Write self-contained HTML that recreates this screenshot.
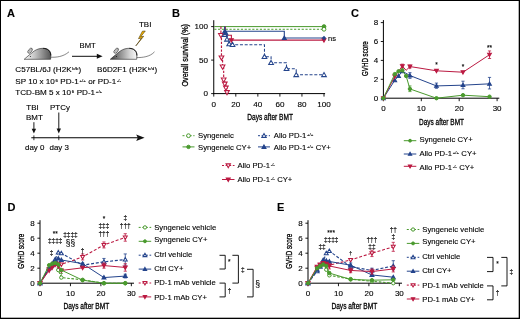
<!DOCTYPE html><html><head><meta charset="utf-8"><style>html,body{margin:0;padding:0;background:#fff;}svg{display:block;will-change:transform;}text{font-family:"Liberation Sans", sans-serif;stroke:#000;stroke-width:0.12px;}</style></head><body>
<svg width="520" height="319" viewBox="0 0 520 319">
<defs><linearGradient id="mg" x1="0" y1="0" x2="1" y2="0"><stop offset="0" stop-color="#fbfbfb"/><stop offset="0.4" stop-color="#c4c4c4"/><stop offset="0.8" stop-color="#7a7a7a"/><stop offset="1" stop-color="#555"/></linearGradient><linearGradient id="mg2" x1="0" y1="0" x2="1" y2="0"><stop offset="0" stop-color="#3a3a3a"/><stop offset="0.35" stop-color="#8a8a8a"/><stop offset="0.75" stop-color="#d8d8d8"/><stop offset="1" stop-color="#f8f8f8"/></linearGradient></defs>
<rect x="0" y="0" width="520" height="319" fill="#fff"/>
<text x="7" y="16.8" font-size="11" text-anchor="start" font-weight="bold" fill="#000" >A</text>
<text x="172" y="16.5" font-size="11" text-anchor="start" font-weight="bold" fill="#000" >B</text>
<text x="351" y="16.5" font-size="11" text-anchor="start" font-weight="bold" fill="#000" >C</text>
<text x="7.5" y="210.5" font-size="11" text-anchor="start" font-weight="bold" fill="#000" >D</text>
<text x="277" y="210.5" font-size="11" text-anchor="start" font-weight="bold" fill="#000" >E</text>
<path d="M24.2,59.3 C27.2,57 30.7,53.3 34.2,51 C37.2,49 40.2,48.3 43.2,48.3 C47.7,48.3 50.8,51 50.8,55 L50.599999999999994,59.3 Z" fill="url(#mg)" stroke="#222" stroke-width="0.6" stroke-linejoin="round"/>
<path d="M43.2,48.4 C47.7,48.4 50.7,51 50.8,55.5" fill="none" stroke="#111" stroke-width="0.9"/>
<ellipse cx="30.1" cy="50.7" rx="1.6" ry="3.0" transform="rotate(40 30.1 50.7)" fill="#f2f2f2" stroke="#222" stroke-width="0.6"/>
<ellipse cx="30.299999999999997" cy="50.5" rx="0.6" ry="1.9" transform="rotate(40 30.299999999999997 50.5)" fill="none" stroke="#555" stroke-width="0.4"/>
<circle cx="30.4" cy="56.6" r="0.5" fill="#111"/>
<path d="M110.3,59.3 C113.3,57 116.8,53.3 120.3,51 C123.3,49 126.3,48.3 129.3,48.3 C133.8,48.3 136.9,51 136.9,55 L136.7,59.3 Z" fill="url(#mg2)" stroke="#222" stroke-width="0.6" stroke-linejoin="round"/>
<path d="M129.3,48.4 C133.8,48.4 136.8,51 136.9,55.5" fill="none" stroke="#111" stroke-width="0.9"/>
<ellipse cx="116.2" cy="50.7" rx="1.6" ry="3.0" transform="rotate(40 116.2 50.7)" fill="#f2f2f2" stroke="#222" stroke-width="0.6"/>
<ellipse cx="116.39999999999999" cy="50.5" rx="0.6" ry="1.9" transform="rotate(40 116.39999999999999 50.5)" fill="none" stroke="#555" stroke-width="0.4"/>
<circle cx="116.5" cy="56.6" r="0.5" fill="#111"/>
<path d="M50.8,57.2 C56,57.4 63,57 69,51.8" fill="none" stroke="#222" stroke-width="0.55"/>
<path d="M136.8,57.6 C142,57.6 150,57 154.5,51.8" fill="none" stroke="#222" stroke-width="0.55"/>
<text x="79.5" y="47.5" font-size="7.7" text-anchor="start" font-weight="normal" fill="#000" >BMT</text>
<line x1="72" y1="56.3" x2="99" y2="56.3" stroke="#000" stroke-width="0.95"/>
<polygon points="102.6,56.3 96.8,53.8 96.8,58.8" fill="#111"/>
<text x="139" y="26.6" font-size="7.95" text-anchor="start" font-weight="normal" fill="#000" >TBI</text>
<path d="M145.3,31 L142.4,31.2 L138.5,38.7 L141.5,38.1 L135.8,45.9 L143.7,36.3 L140.7,36.8 Z" fill="#f5b400" stroke="#3a2a00" stroke-width="0.55" stroke-linejoin="round"/>
<text x="15.3" y="72.2" font-size="8.1" fill="#000">C57BL/6J (H2K<tspan font-size="4.4" dy="-2.0" dx="0.7">b/b</tspan><tspan dy="2.0" dx="0.2">)</tspan></text>
<text x="97" y="72.3" font-size="8.1" fill="#000">B6D2F1 (H2K<tspan font-size="4.4" dy="-2.0" dx="0.7">b/d</tspan><tspan dy="2.0" dx="0.2">)</tspan></text>
<text x="15.3" y="84.2" font-size="8.1" fill="#000">SP 10 x 10<tspan font-size="4.4" dy="-2.0" dx="0.7">6</tspan><tspan dy="2.0" dx="0.2"> PD-1</tspan><tspan font-size="4.4" dy="-2.0" dx="0.7">+/+</tspan><tspan dy="2.0" dx="0.2"> or PD-1</tspan><tspan font-size="4.4" dy="-2.0" dx="0.7">-/-</tspan></text>
<text x="15.3" y="95.2" font-size="8.1" fill="#000">TCD-BM 5 x 10<tspan font-size="4.4" dy="-2.0" dx="0.7">6</tspan><tspan dy="2.0" dx="0.2"> PD-1</tspan><tspan font-size="4.4" dy="-2.0" dx="0.7">+/+</tspan></text>
<text x="26.3" y="110" font-size="7.95" text-anchor="start" font-weight="normal" fill="#000" >TBI</text>
<text x="26" y="119.5" font-size="7.95" text-anchor="start" font-weight="normal" fill="#000" >BMT</text>
<text x="50" y="110" font-size="7.95" text-anchor="start" font-weight="normal" fill="#000" >PTCy</text>
<line x1="33.9" y1="122.2" x2="33.9" y2="131" stroke="#000" stroke-width="0.9"/>
<polygon points="33.9,133.6 31.7,128.8 36.1,128.8" fill="#111"/>
<line x1="58.8" y1="112.5" x2="58.8" y2="131" stroke="#000" stroke-width="0.9"/>
<polygon points="58.8,133.4 56.6,128.6 61,128.6" fill="#111"/>
<line x1="31.3" y1="137.8" x2="139" y2="137.8" stroke="#000" stroke-width="1.1"/>
<polygon points="144.6,137.8 136.2,134.6 137.8,137.8 136.2,141.1" fill="#111"/>
<line x1="33.9" y1="135.4" x2="33.9" y2="140.2" stroke="#000" stroke-width="0.8"/>
<line x1="58.8" y1="135.4" x2="58.8" y2="140.2" stroke="#000" stroke-width="0.8"/>
<text x="25" y="150" font-size="7.95" text-anchor="start" font-weight="normal" fill="#000" >day 0</text>
<text x="49.5" y="150" font-size="7.95" text-anchor="start" font-weight="normal" fill="#000" >day 3</text>
<line x1="213.75" y1="20.2" x2="213.75" y2="94.1" stroke="#000" stroke-width="1"/>
<line x1="213.25" y1="93.6" x2="325.1025" y2="93.6" stroke="#000" stroke-width="1"/>
<line x1="211.15" y1="93.6" x2="213.75" y2="93.6" stroke="#000" stroke-width="0.9"/>
<text x="207.95" y="96.39999999999999" font-size="8.1" text-anchor="end" font-weight="normal" fill="#000" >0</text>
<line x1="211.15" y1="60.099999999999994" x2="213.75" y2="60.099999999999994" stroke="#000" stroke-width="0.9"/>
<text x="207.95" y="62.89999999999999" font-size="8.1" text-anchor="end" font-weight="normal" fill="#000" >50</text>
<line x1="211.15" y1="26.599999999999994" x2="213.75" y2="26.599999999999994" stroke="#000" stroke-width="0.9"/>
<text x="207.95" y="29.399999999999995" font-size="8.1" text-anchor="end" font-weight="normal" fill="#000" >100</text>
<line x1="213.75" y1="93.6" x2="213.75" y2="96.6" stroke="#000" stroke-width="0.9"/>
<text x="213.75" y="106.5" font-size="8.1" text-anchor="middle" font-weight="normal" fill="#000" >0</text>
<line x1="235.8" y1="93.6" x2="235.8" y2="96.6" stroke="#000" stroke-width="0.9"/>
<text x="235.8" y="106.5" font-size="8.1" text-anchor="middle" font-weight="normal" fill="#000" >20</text>
<line x1="257.85" y1="93.6" x2="257.85" y2="96.6" stroke="#000" stroke-width="0.9"/>
<text x="257.85" y="106.5" font-size="8.1" text-anchor="middle" font-weight="normal" fill="#000" >40</text>
<line x1="279.9" y1="93.6" x2="279.9" y2="96.6" stroke="#000" stroke-width="0.9"/>
<text x="279.9" y="106.5" font-size="8.1" text-anchor="middle" font-weight="normal" fill="#000" >60</text>
<line x1="301.95" y1="93.6" x2="301.95" y2="96.6" stroke="#000" stroke-width="0.9"/>
<text x="301.95" y="106.5" font-size="8.1" text-anchor="middle" font-weight="normal" fill="#000" >80</text>
<line x1="324.0" y1="93.6" x2="324.0" y2="96.6" stroke="#000" stroke-width="0.9"/>
<text x="324.0" y="106.5" font-size="8.1" text-anchor="middle" font-weight="normal" fill="#000" >100</text>
<text x="247.3" y="119.6" font-size="9" text-anchor="start" textLength="45.6" lengthAdjust="spacingAndGlyphs" fill="#000" style="stroke-width:0.3px">Days after BMT</text>
<text x="188.5" y="86.6" font-size="8.8" text-anchor="start" textLength="62.6" lengthAdjust="spacingAndGlyphs" fill="#000" style="stroke-width:0.3px" transform="rotate(-90 188.5 86.6)">Overall survival (%)</text>
<line x1="214.25" y1="26.599999999999994" x2="324.0" y2="26.599999999999994" stroke="#4a9a2e" stroke-width="1"/>
<line x1="214.25" y1="29.279999999999987" x2="324.0" y2="29.279999999999987" stroke="#4a9a2e" stroke-width="1" stroke-dasharray="2.2,1.6"/>
<circle cx="324.00" cy="26.60" r="1.90" fill="#4a9a2e" stroke="#4a9a2e" stroke-width="1.0"/>
<circle cx="324.00" cy="29.28" r="1.90" fill="white" stroke="#4a9a2e" stroke-width="1.0"/>
<polyline points="224.78,26.60 224.78,31.29 284.31,31.29 284.31,37.99 324.00,37.99" fill="none" stroke="#24448c" stroke-width="1.1" stroke-linejoin="miter"/>
<polyline points="225.33,26.60 225.33,35.31 231.39,35.31 231.39,40.13 324.00,40.13" fill="none" stroke="#bb1a42" stroke-width="1.1" stroke-linejoin="miter"/>
<polyline points="224.78,26.60 224.78,34.64 226.98,34.64 226.98,39.33 229.19,39.33 229.19,44.02 232.49,44.02 232.49,44.69 264.47,44.69 264.47,56.75 271.08,56.75 271.08,62.78 286.51,62.78 286.51,68.81 296.22,68.81 296.22,74.84 324.00,74.84" fill="none" stroke="#24448c" stroke-width="1.05" stroke-dasharray="3,1.75" stroke-linejoin="miter"/>
<polyline points="220.92,26.60 220.92,35.31 221.47,35.31 221.47,57.75 222.57,57.75 222.57,66.80 223.67,66.80 223.67,79.86 224.78,79.86 224.78,83.88 225.88,83.88 225.88,87.91 226.98,87.91 226.98,92.39" fill="none" stroke="#bb1a42" stroke-width="1.15" stroke-dasharray="2.4,1.5" stroke-linejoin="miter"/>
<polygon points="220.92,37.67 223.28,33.54 218.55,33.54" fill="white" stroke="#bb1a42" stroke-width="1.05" stroke-linejoin="miter"/>
<polygon points="221.47,60.12 223.83,55.98 219.10,55.98" fill="white" stroke="#bb1a42" stroke-width="1.05" stroke-linejoin="miter"/>
<polygon points="222.57,69.16 224.94,65.03 220.20,65.03" fill="white" stroke="#bb1a42" stroke-width="1.05" stroke-linejoin="miter"/>
<polygon points="223.67,82.23 226.04,78.09 221.31,78.09" fill="white" stroke="#bb1a42" stroke-width="1.05" stroke-linejoin="miter"/>
<polygon points="224.78,86.25 227.14,82.11 222.41,82.11" fill="white" stroke="#bb1a42" stroke-width="1.05" stroke-linejoin="miter"/>
<polygon points="225.88,90.27 228.24,86.13 223.51,86.13" fill="white" stroke="#bb1a42" stroke-width="1.05" stroke-linejoin="miter"/>
<polygon points="226.98,94.76 229.34,90.62 224.61,90.62" fill="white" stroke="#bb1a42" stroke-width="1.05" stroke-linejoin="miter"/>
<polygon points="224.78,32.27 227.14,36.41 222.41,36.41" fill="white" stroke="#24448c" stroke-width="1.05" stroke-linejoin="miter"/>
<polygon points="226.98,36.96 229.34,41.10 224.61,41.10" fill="white" stroke="#24448c" stroke-width="1.05" stroke-linejoin="miter"/>
<polygon points="229.19,41.65 231.55,45.79 226.82,45.79" fill="white" stroke="#24448c" stroke-width="1.05" stroke-linejoin="miter"/>
<polygon points="232.49,42.32 234.86,46.46 230.13,46.46" fill="white" stroke="#24448c" stroke-width="1.05" stroke-linejoin="miter"/>
<polygon points="264.47,54.38 266.83,58.52 262.10,58.52" fill="white" stroke="#24448c" stroke-width="1.05" stroke-linejoin="miter"/>
<polygon points="271.08,60.41 273.44,64.55 268.71,64.55" fill="white" stroke="#24448c" stroke-width="1.05" stroke-linejoin="miter"/>
<polygon points="286.51,66.44 288.88,70.58 284.15,70.58" fill="white" stroke="#24448c" stroke-width="1.05" stroke-linejoin="miter"/>
<polygon points="296.22,72.47 298.58,76.61 293.85,76.61" fill="white" stroke="#24448c" stroke-width="1.05" stroke-linejoin="miter"/>
<polygon points="324.00,72.47 326.37,76.61 321.63,76.61" fill="white" stroke="#24448c" stroke-width="1.05" stroke-linejoin="miter"/>
<polygon points="224.78,29.31 226.75,32.77 222.80,32.77" fill="#24448c" stroke="#24448c" stroke-width="1.05" stroke-linejoin="miter"/>
<polygon points="225.88,31.32 227.86,34.78 223.90,34.78" fill="#24448c" stroke="#24448c" stroke-width="1.05" stroke-linejoin="miter"/>
<polygon points="284.31,36.01 286.29,39.47 282.33,39.47" fill="#24448c" stroke="#24448c" stroke-width="1.05" stroke-linejoin="miter"/>
<polygon points="231.39,42.11 233.37,38.65 229.41,38.65" fill="#bb1a42" stroke="#bb1a42" stroke-width="1.05" stroke-linejoin="miter"/>
<polygon points="324.00,42.11 325.98,38.65 322.02,38.65" fill="#bb1a42" stroke="#bb1a42" stroke-width="1.05" stroke-linejoin="miter"/>
<path d="M324.0,35.789999999999985 l2.2,2.2 l-2.2,2.2 l-2.2,-2.2 z" fill="#24448c"/>
<text x="328" y="41" font-size="7.5" text-anchor="start" font-weight="normal" fill="#000" >ns</text>
<line x1="182.5" y1="135.7" x2="194.5" y2="135.7" stroke="#4a9a2e" stroke-width="1" stroke-dasharray="2,1.6"/>
<circle cx="188.50" cy="135.70" r="1.90" fill="white" stroke="#4a9a2e" stroke-width="1.0"/>
<text x="198" y="138.39999999999998" font-size="7.7" text-anchor="start" font-weight="normal" fill="#000" >Syngeneic</text>
<line x1="182.5" y1="146.9" x2="194.5" y2="146.9" stroke="#4a9a2e" stroke-width="1"/>
<circle cx="188.50" cy="146.90" r="1.71" fill="#4a9a2e" stroke="#4a9a2e" stroke-width="1.0"/>
<text x="198" y="149.6" font-size="7.7" text-anchor="start" font-weight="normal" fill="#000" >Syngeneic CY+</text>
<line x1="258" y1="135.7" x2="270" y2="135.7" stroke="#24448c" stroke-width="1" stroke-dasharray="2,1.6"/>
<polygon points="264.00,133.50 266.20,137.35 261.80,137.35" fill="white" stroke="#24448c" stroke-width="1.05" stroke-linejoin="miter"/>
<text x="273.8" y="138.39999999999998" font-size="7.7" fill="#000">Allo PD-1<tspan font-size="4.4" dy="-2.0" dx="0.7">+/+</tspan></text>
<line x1="258" y1="146.9" x2="270" y2="146.9" stroke="#24448c" stroke-width="1"/>
<polygon points="264.00,144.92 265.98,148.39 262.02,148.39" fill="#24448c" stroke="#24448c" stroke-width="1.05" stroke-linejoin="miter"/>
<text x="273.8" y="149.6" font-size="7.7" fill="#000">Allo PD-1<tspan font-size="4.4" dy="-2.0" dx="0.7">+/+</tspan><tspan dy="2.0" dx="0.2"> CY+</tspan></text>
<line x1="222" y1="165.5" x2="234.5" y2="165.5" stroke="#bb1a42" stroke-width="1" stroke-dasharray="2,1.6"/>
<polygon points="228.25,167.70 230.45,163.85 226.05,163.85" fill="white" stroke="#bb1a42" stroke-width="1.05" stroke-linejoin="miter"/>
<text x="237.5" y="168.2" font-size="7.7" fill="#000">Allo PD-1<tspan font-size="4.4" dy="-2.0" dx="0.7">-/-</tspan></text>
<line x1="222" y1="179.5" x2="234.5" y2="179.5" stroke="#bb1a42" stroke-width="1"/>
<polygon points="228.25,181.48 230.23,178.01 226.27,178.01" fill="#bb1a42" stroke="#bb1a42" stroke-width="1.05" stroke-linejoin="miter"/>
<text x="237.5" y="182.2" font-size="7.7" fill="#000">Allo PD-1<tspan font-size="4.4" dy="-2.0" dx="0.7">-/-</tspan><tspan dy="2.0" dx="0.2"> CY+</tspan></text>
<line x1="383.4" y1="20.1" x2="383.4" y2="98.7" stroke="#000" stroke-width="1"/>
<line x1="382.9" y1="98.2" x2="499.3" y2="98.2" stroke="#000" stroke-width="1"/>
<line x1="380.79999999999995" y1="98.2" x2="383.4" y2="98.2" stroke="#000" stroke-width="0.9"/>
<text x="378.09999999999997" y="101.0" font-size="8" text-anchor="end" font-weight="normal" fill="#000" >0</text>
<line x1="380.79999999999995" y1="79.30000000000001" x2="383.4" y2="79.30000000000001" stroke="#000" stroke-width="0.9"/>
<text x="378.09999999999997" y="82.10000000000001" font-size="8" text-anchor="end" font-weight="normal" fill="#000" >2</text>
<line x1="380.79999999999995" y1="60.400000000000006" x2="383.4" y2="60.400000000000006" stroke="#000" stroke-width="0.9"/>
<text x="378.09999999999997" y="63.2" font-size="8" text-anchor="end" font-weight="normal" fill="#000" >4</text>
<line x1="380.79999999999995" y1="41.50000000000001" x2="383.4" y2="41.50000000000001" stroke="#000" stroke-width="0.9"/>
<text x="378.09999999999997" y="44.300000000000004" font-size="8" text-anchor="end" font-weight="normal" fill="#000" >6</text>
<line x1="380.79999999999995" y1="22.60000000000001" x2="383.4" y2="22.60000000000001" stroke="#000" stroke-width="0.9"/>
<text x="378.09999999999997" y="25.40000000000001" font-size="8" text-anchor="end" font-weight="normal" fill="#000" >8</text>
<line x1="383.4" y1="98.2" x2="383.4" y2="101.2" stroke="#000" stroke-width="0.9"/>
<text x="383.4" y="111" font-size="8" text-anchor="middle" font-weight="normal" fill="#000" >0</text>
<line x1="421.29999999999995" y1="98.2" x2="421.29999999999995" y2="101.2" stroke="#000" stroke-width="0.9"/>
<text x="421.29999999999995" y="111" font-size="8" text-anchor="middle" font-weight="normal" fill="#000" >10</text>
<line x1="459.2" y1="98.2" x2="459.2" y2="101.2" stroke="#000" stroke-width="0.9"/>
<text x="459.2" y="111" font-size="8" text-anchor="middle" font-weight="normal" fill="#000" >20</text>
<line x1="497.09999999999997" y1="98.2" x2="497.09999999999997" y2="101.2" stroke="#000" stroke-width="0.9"/>
<text x="497.09999999999997" y="111" font-size="8" text-anchor="middle" font-weight="normal" fill="#000" >30</text>
<text x="419" y="124.7" font-size="9" text-anchor="start" textLength="45" lengthAdjust="spacingAndGlyphs" fill="#000" style="stroke-width:0.3px">Days after BMT</text>
<text x="368.1" y="76" font-size="9" text-anchor="start" textLength="34.7" lengthAdjust="spacingAndGlyphs" fill="#000" style="stroke-width:0.3px" transform="rotate(-90 368.1 76)">GVHD score</text>
<polyline points="383.40,98.20 394.77,80.25 398.56,75.99 402.35,71.27 409.93,75.52 436.46,85.92 462.99,85.16 489.52,83.84" fill="none" stroke="#24448c" stroke-width="1" stroke-linejoin="miter"/>
<polygon points="383.40,96.33 385.27,99.60 381.53,99.60" fill="#24448c" stroke="#24448c" stroke-width="1.05" stroke-linejoin="miter"/>
<polygon points="394.77,78.38 396.64,81.65 392.90,81.65" fill="#24448c" stroke="#24448c" stroke-width="1.05" stroke-linejoin="miter"/>
<polygon points="398.56,74.12 400.43,77.40 396.69,77.40" fill="#24448c" stroke="#24448c" stroke-width="1.05" stroke-linejoin="miter"/>
<polygon points="402.35,69.40 404.22,72.67 400.48,72.67" fill="#24448c" stroke="#24448c" stroke-width="1.05" stroke-linejoin="miter"/>
<polygon points="409.93,73.65 411.80,76.92 408.06,76.92" fill="#24448c" stroke="#24448c" stroke-width="1.05" stroke-linejoin="miter"/>
<polygon points="436.46,84.05 438.33,87.32 434.59,87.32" fill="#24448c" stroke="#24448c" stroke-width="1.05" stroke-linejoin="miter"/>
<polygon points="462.99,83.29 464.86,86.56 461.12,86.56" fill="#24448c" stroke="#24448c" stroke-width="1.05" stroke-linejoin="miter"/>
<polygon points="489.52,81.97 491.39,85.24 487.65,85.24" fill="#24448c" stroke="#24448c" stroke-width="1.05" stroke-linejoin="miter"/>
<line x1="409.92999999999995" y1="78.355" x2="409.92999999999995" y2="72.685" stroke="#24448c" stroke-width="0.8"/>
<line x1="408.3299999999999" y1="78.355" x2="411.53" y2="78.355" stroke="#24448c" stroke-width="0.8"/>
<line x1="408.3299999999999" y1="72.685" x2="411.53" y2="72.685" stroke="#24448c" stroke-width="0.8"/>
<line x1="436.46" y1="88.2775" x2="436.46" y2="83.08" stroke="#24448c" stroke-width="0.8"/>
<line x1="434.85999999999996" y1="88.2775" x2="438.06" y2="88.2775" stroke="#24448c" stroke-width="0.8"/>
<line x1="434.85999999999996" y1="83.08" x2="438.06" y2="83.08" stroke="#24448c" stroke-width="0.8"/>
<line x1="462.99" y1="88.75" x2="462.99" y2="81.19" stroke="#24448c" stroke-width="0.8"/>
<line x1="461.39" y1="88.75" x2="464.59000000000003" y2="88.75" stroke="#24448c" stroke-width="0.8"/>
<line x1="461.39" y1="81.19" x2="464.59000000000003" y2="81.19" stroke="#24448c" stroke-width="0.8"/>
<line x1="489.52" y1="88.93900000000001" x2="489.52" y2="77.41" stroke="#24448c" stroke-width="0.8"/>
<line x1="487.91999999999996" y1="88.93900000000001" x2="491.12" y2="88.93900000000001" stroke="#24448c" stroke-width="0.8"/>
<line x1="487.91999999999996" y1="77.41" x2="491.12" y2="77.41" stroke="#24448c" stroke-width="0.8"/>
<polyline points="383.40,98.20 394.77,76.47 402.35,66.07 406.14,70.32 409.93,66.54 436.46,70.80 462.99,72.21 489.52,54.73" fill="none" stroke="#bb1a42" stroke-width="1" stroke-linejoin="miter"/>
<polygon points="383.40,100.07 385.27,96.80 381.53,96.80" fill="#bb1a42" stroke="#bb1a42" stroke-width="1.05" stroke-linejoin="miter"/>
<polygon points="394.77,78.34 396.64,75.06 392.90,75.06" fill="#bb1a42" stroke="#bb1a42" stroke-width="1.05" stroke-linejoin="miter"/>
<polygon points="402.35,67.94 404.22,64.67 400.48,64.67" fill="#bb1a42" stroke="#bb1a42" stroke-width="1.05" stroke-linejoin="miter"/>
<polygon points="409.93,68.41 411.80,65.14 408.06,65.14" fill="#bb1a42" stroke="#bb1a42" stroke-width="1.05" stroke-linejoin="miter"/>
<polygon points="436.46,72.67 438.33,69.39 434.59,69.39" fill="#bb1a42" stroke="#bb1a42" stroke-width="1.05" stroke-linejoin="miter"/>
<polygon points="462.99,74.08 464.86,70.81 461.12,70.81" fill="#bb1a42" stroke="#bb1a42" stroke-width="1.05" stroke-linejoin="miter"/>
<polygon points="489.52,56.60 491.39,53.33 487.65,53.33" fill="#bb1a42" stroke="#bb1a42" stroke-width="1.05" stroke-linejoin="miter"/>
<line x1="402.34999999999997" y1="67.96000000000001" x2="402.34999999999997" y2="64.18" stroke="#bb1a42" stroke-width="0.8"/>
<line x1="400.74999999999994" y1="67.96000000000001" x2="403.95" y2="67.96000000000001" stroke="#bb1a42" stroke-width="0.8"/>
<line x1="400.74999999999994" y1="64.18" x2="403.95" y2="64.18" stroke="#bb1a42" stroke-width="0.8"/>
<line x1="409.92999999999995" y1="67.96000000000001" x2="409.92999999999995" y2="65.125" stroke="#bb1a42" stroke-width="0.8"/>
<line x1="408.3299999999999" y1="67.96000000000001" x2="411.53" y2="67.96000000000001" stroke="#bb1a42" stroke-width="0.8"/>
<line x1="408.3299999999999" y1="65.125" x2="411.53" y2="65.125" stroke="#bb1a42" stroke-width="0.8"/>
<line x1="489.52" y1="58.510000000000005" x2="489.52" y2="50.95" stroke="#bb1a42" stroke-width="0.8"/>
<line x1="487.91999999999996" y1="58.510000000000005" x2="491.12" y2="58.510000000000005" stroke="#bb1a42" stroke-width="0.8"/>
<line x1="487.91999999999996" y1="50.95" x2="491.12" y2="50.95" stroke="#bb1a42" stroke-width="0.8"/>
<polyline points="383.40,98.20 394.77,74.10 398.56,71.27 402.35,70.32 406.14,75.99 409.93,88.94 436.46,98.20 462.99,95.18 489.52,96.69" fill="none" stroke="#4a9a2e" stroke-width="1" stroke-linejoin="miter"/>
<circle cx="383.40" cy="98.20" r="1.71" fill="#4a9a2e" stroke="#4a9a2e" stroke-width="1.0"/>
<circle cx="394.77" cy="74.10" r="1.71" fill="#4a9a2e" stroke="#4a9a2e" stroke-width="1.0"/>
<circle cx="398.56" cy="71.27" r="1.71" fill="#4a9a2e" stroke="#4a9a2e" stroke-width="1.0"/>
<circle cx="402.35" cy="70.32" r="1.71" fill="#4a9a2e" stroke="#4a9a2e" stroke-width="1.0"/>
<circle cx="406.14" cy="75.99" r="1.71" fill="#4a9a2e" stroke="#4a9a2e" stroke-width="1.0"/>
<circle cx="409.93" cy="88.94" r="1.71" fill="#4a9a2e" stroke="#4a9a2e" stroke-width="1.0"/>
<circle cx="436.46" cy="98.20" r="1.71" fill="#4a9a2e" stroke="#4a9a2e" stroke-width="1.0"/>
<circle cx="462.99" cy="95.18" r="1.71" fill="#4a9a2e" stroke="#4a9a2e" stroke-width="1.0"/>
<circle cx="489.52" cy="96.69" r="1.71" fill="#4a9a2e" stroke="#4a9a2e" stroke-width="1.0"/>
<line x1="409.92999999999995" y1="91.58500000000001" x2="409.92999999999995" y2="85.915" stroke="#4a9a2e" stroke-width="0.8"/>
<line x1="408.3299999999999" y1="91.58500000000001" x2="411.53" y2="91.58500000000001" stroke="#4a9a2e" stroke-width="0.8"/>
<line x1="408.3299999999999" y1="85.915" x2="411.53" y2="85.915" stroke="#4a9a2e" stroke-width="0.8"/>
<text x="436.46" y="67.3" font-size="6.5" text-anchor="middle" font-weight="normal" fill="#000" >*</text>
<text x="462.99" y="68.6" font-size="6.5" text-anchor="middle" font-weight="normal" fill="#000" >*</text>
<text x="489.52" y="50.3" font-size="6.5" text-anchor="middle" font-weight="normal" fill="#000" >**</text>
<line x1="403.8" y1="140.7" x2="416.3" y2="140.7" stroke="#4a9a2e" stroke-width="1"/>
<circle cx="410.05" cy="140.70" r="1.42" fill="#4a9a2e" stroke="#4a9a2e" stroke-width="1.0"/>
<text x="419.5" y="141.8" font-size="7.7" text-anchor="start" font-weight="normal" fill="#000" >Syngeneic CY+</text>
<line x1="403.8" y1="154.0" x2="416.3" y2="154.0" stroke="#24448c" stroke-width="1"/>
<polygon points="410.05,152.35 411.70,155.24 408.40,155.24" fill="#24448c" stroke="#24448c" stroke-width="1.05" stroke-linejoin="miter"/>
<text x="419.5" y="155.8" font-size="7.7" fill="#000">Allo PD-1<tspan font-size="4.4" dy="-2.0" dx="0.7">+/+</tspan><tspan dy="2.0" dx="0.2"> CY+</tspan></text>
<line x1="403.8" y1="166.3" x2="416.3" y2="166.3" stroke="#bb1a42" stroke-width="1"/>
<polygon points="410.05,167.95 411.70,165.06 408.40,165.06" fill="#bb1a42" stroke="#bb1a42" stroke-width="1.05" stroke-linejoin="miter"/>
<text x="419.5" y="169.8" font-size="7.7" fill="#000">Allo PD-1<tspan font-size="4.4" dy="-2.0" dx="0.7">-/-</tspan><tspan dy="2.0" dx="0.2"> CY+</tspan></text>
<line x1="40" y1="220.2" x2="40" y2="283.7" stroke="#000" stroke-width="1"/>
<line x1="39.5" y1="283.2" x2="134" y2="283.2" stroke="#000" stroke-width="1"/>
<line x1="37.4" y1="283.2" x2="40" y2="283.2" stroke="#000" stroke-width="0.9"/>
<text x="34.7" y="286.0" font-size="8" text-anchor="end" font-weight="normal" fill="#000" >0</text>
<line x1="37.4" y1="268.2" x2="40" y2="268.2" stroke="#000" stroke-width="0.9"/>
<text x="34.7" y="271.0" font-size="8" text-anchor="end" font-weight="normal" fill="#000" >2</text>
<line x1="37.4" y1="253.2" x2="40" y2="253.2" stroke="#000" stroke-width="0.9"/>
<text x="34.7" y="256.0" font-size="8" text-anchor="end" font-weight="normal" fill="#000" >4</text>
<line x1="37.4" y1="238.2" x2="40" y2="238.2" stroke="#000" stroke-width="0.9"/>
<text x="34.7" y="241.0" font-size="8" text-anchor="end" font-weight="normal" fill="#000" >6</text>
<line x1="37.4" y1="223.2" x2="40" y2="223.2" stroke="#000" stroke-width="0.9"/>
<text x="34.7" y="226.0" font-size="8" text-anchor="end" font-weight="normal" fill="#000" >8</text>
<line x1="40.0" y1="283.2" x2="40.0" y2="286.2" stroke="#000" stroke-width="0.9"/>
<text x="40.0" y="296.2" font-size="8" text-anchor="middle" font-weight="normal" fill="#000" >0</text>
<line x1="70.45" y1="283.2" x2="70.45" y2="286.2" stroke="#000" stroke-width="0.9"/>
<text x="70.45" y="296.2" font-size="8" text-anchor="middle" font-weight="normal" fill="#000" >10</text>
<line x1="100.9" y1="283.2" x2="100.9" y2="286.2" stroke="#000" stroke-width="0.9"/>
<text x="100.9" y="296.2" font-size="8" text-anchor="middle" font-weight="normal" fill="#000" >20</text>
<line x1="131.35" y1="283.2" x2="131.35" y2="286.2" stroke="#000" stroke-width="0.9"/>
<text x="131.35" y="296.2" font-size="8" text-anchor="middle" font-weight="normal" fill="#000" >30</text>
<text x="63.4" y="309.3" font-size="9" text-anchor="start" textLength="45.9" lengthAdjust="spacingAndGlyphs" fill="#000" style="stroke-width:0.3px">Days after BMT</text>
<text x="23.8" y="268.8" font-size="9" text-anchor="start" textLength="35" lengthAdjust="spacingAndGlyphs" fill="#000" style="stroke-width:0.3px" transform="rotate(-90 23.8 268.8)">GVHD score</text>
<polyline points="40.00,283.20 49.13,268.20 52.18,265.95 55.23,263.70 58.27,270.07 61.31,277.57 82.63,279.82 103.94,283.20 125.26,283.20" fill="none" stroke="#4a9a2e" stroke-width="1.1" stroke-dasharray="2.6,1.6" stroke-linejoin="miter"/>
<line x1="61.315" y1="277.575" x2="61.315" y2="273.45" stroke="#4a9a2e" stroke-width="0.8"/>
<line x1="59.714999999999996" y1="277.575" x2="62.915" y2="277.575" stroke="#4a9a2e" stroke-width="0.8"/>
<line x1="59.714999999999996" y1="273.45" x2="62.915" y2="273.45" stroke="#4a9a2e" stroke-width="0.8"/>
<circle cx="40.00" cy="283.20" r="1.71" fill="white" stroke="#4a9a2e" stroke-width="1.0"/>
<circle cx="49.13" cy="268.20" r="1.71" fill="white" stroke="#4a9a2e" stroke-width="1.0"/>
<circle cx="52.18" cy="265.95" r="1.71" fill="white" stroke="#4a9a2e" stroke-width="1.0"/>
<circle cx="55.23" cy="263.70" r="1.71" fill="white" stroke="#4a9a2e" stroke-width="1.0"/>
<circle cx="58.27" cy="270.07" r="1.71" fill="white" stroke="#4a9a2e" stroke-width="1.0"/>
<circle cx="61.31" cy="277.57" r="1.71" fill="white" stroke="#4a9a2e" stroke-width="1.0"/>
<circle cx="82.63" cy="279.82" r="1.71" fill="white" stroke="#4a9a2e" stroke-width="1.0"/>
<circle cx="103.94" cy="283.20" r="1.71" fill="white" stroke="#4a9a2e" stroke-width="1.0"/>
<circle cx="125.26" cy="283.20" r="1.71" fill="white" stroke="#4a9a2e" stroke-width="1.0"/>
<polyline points="40.00,283.20 49.13,267.45 52.18,263.70 55.23,259.20 58.27,252.45 61.31,253.20 82.63,265.20 103.94,261.82 125.26,259.57" fill="none" stroke="#24448c" stroke-width="1.1" stroke-dasharray="3,1.8" stroke-linejoin="miter"/>
<line x1="82.63" y1="267.45" x2="82.63" y2="262.95" stroke="#24448c" stroke-width="0.8"/>
<line x1="81.03" y1="267.45" x2="84.22999999999999" y2="267.45" stroke="#24448c" stroke-width="0.8"/>
<line x1="81.03" y1="262.95" x2="84.22999999999999" y2="262.95" stroke="#24448c" stroke-width="0.8"/>
<line x1="103.945" y1="265.2" x2="103.945" y2="258.45" stroke="#24448c" stroke-width="0.8"/>
<line x1="102.345" y1="265.2" x2="105.54499999999999" y2="265.2" stroke="#24448c" stroke-width="0.8"/>
<line x1="102.345" y1="258.45" x2="105.54499999999999" y2="258.45" stroke="#24448c" stroke-width="0.8"/>
<line x1="125.25999999999999" y1="265.2" x2="125.25999999999999" y2="253.95" stroke="#24448c" stroke-width="0.8"/>
<line x1="123.66" y1="265.2" x2="126.85999999999999" y2="265.2" stroke="#24448c" stroke-width="0.8"/>
<line x1="123.66" y1="253.95" x2="126.85999999999999" y2="253.95" stroke="#24448c" stroke-width="0.8"/>
<polygon points="40.00,281.22 41.98,284.69 38.02,284.69" fill="white" stroke="#24448c" stroke-width="1.05" stroke-linejoin="miter"/>
<polygon points="49.13,265.47 51.11,268.94 47.16,268.94" fill="white" stroke="#24448c" stroke-width="1.05" stroke-linejoin="miter"/>
<polygon points="52.18,261.72 54.16,265.19 50.20,265.19" fill="white" stroke="#24448c" stroke-width="1.05" stroke-linejoin="miter"/>
<polygon points="55.23,257.22 57.20,260.69 53.25,260.69" fill="white" stroke="#24448c" stroke-width="1.05" stroke-linejoin="miter"/>
<polygon points="58.27,250.47 60.25,253.94 56.29,253.94" fill="white" stroke="#24448c" stroke-width="1.05" stroke-linejoin="miter"/>
<polygon points="61.31,251.22 63.29,254.69 59.34,254.69" fill="white" stroke="#24448c" stroke-width="1.05" stroke-linejoin="miter"/>
<polygon points="82.63,263.22 84.61,266.69 80.65,266.69" fill="white" stroke="#24448c" stroke-width="1.05" stroke-linejoin="miter"/>
<polygon points="103.94,259.84 105.92,263.31 101.96,263.31" fill="white" stroke="#24448c" stroke-width="1.05" stroke-linejoin="miter"/>
<polygon points="125.26,257.59 127.24,261.06 123.28,261.06" fill="white" stroke="#24448c" stroke-width="1.05" stroke-linejoin="miter"/>
<polyline points="40.00,283.20 49.13,268.95 52.18,265.95 55.23,262.95 58.27,263.70 61.31,264.45 82.63,256.95 103.94,244.95 125.26,237.45" fill="none" stroke="#bb1a42" stroke-width="1.1" stroke-dasharray="3,1.8" stroke-linejoin="miter"/>
<line x1="82.63" y1="259.95" x2="82.63" y2="253.95" stroke="#bb1a42" stroke-width="0.8"/>
<line x1="81.03" y1="259.95" x2="84.22999999999999" y2="259.95" stroke="#bb1a42" stroke-width="0.8"/>
<line x1="81.03" y1="253.95" x2="84.22999999999999" y2="253.95" stroke="#bb1a42" stroke-width="0.8"/>
<line x1="103.945" y1="247.95" x2="103.945" y2="241.95" stroke="#bb1a42" stroke-width="0.8"/>
<line x1="102.345" y1="247.95" x2="105.54499999999999" y2="247.95" stroke="#bb1a42" stroke-width="0.8"/>
<line x1="102.345" y1="241.95" x2="105.54499999999999" y2="241.95" stroke="#bb1a42" stroke-width="0.8"/>
<line x1="125.25999999999999" y1="241.2" x2="125.25999999999999" y2="233.7" stroke="#bb1a42" stroke-width="0.8"/>
<line x1="123.66" y1="241.2" x2="126.85999999999999" y2="241.2" stroke="#bb1a42" stroke-width="0.8"/>
<line x1="123.66" y1="233.7" x2="126.85999999999999" y2="233.7" stroke="#bb1a42" stroke-width="0.8"/>
<polygon points="40.00,285.18 41.98,281.71 38.02,281.71" fill="white" stroke="#bb1a42" stroke-width="1.05" stroke-linejoin="miter"/>
<polygon points="49.13,270.93 51.11,267.46 47.16,267.46" fill="white" stroke="#bb1a42" stroke-width="1.05" stroke-linejoin="miter"/>
<polygon points="52.18,267.93 54.16,264.46 50.20,264.46" fill="white" stroke="#bb1a42" stroke-width="1.05" stroke-linejoin="miter"/>
<polygon points="55.23,264.93 57.20,261.46 53.25,261.46" fill="white" stroke="#bb1a42" stroke-width="1.05" stroke-linejoin="miter"/>
<polygon points="58.27,265.68 60.25,262.21 56.29,262.21" fill="white" stroke="#bb1a42" stroke-width="1.05" stroke-linejoin="miter"/>
<polygon points="61.31,266.43 63.29,262.96 59.34,262.96" fill="white" stroke="#bb1a42" stroke-width="1.05" stroke-linejoin="miter"/>
<polygon points="82.63,258.93 84.61,255.46 80.65,255.46" fill="white" stroke="#bb1a42" stroke-width="1.05" stroke-linejoin="miter"/>
<polygon points="103.94,246.93 105.92,243.46 101.96,243.46" fill="white" stroke="#bb1a42" stroke-width="1.05" stroke-linejoin="miter"/>
<polygon points="125.26,239.43 127.24,235.96 123.28,235.96" fill="white" stroke="#bb1a42" stroke-width="1.05" stroke-linejoin="miter"/>
<polyline points="40.00,283.20 49.13,268.20 52.18,265.20 55.23,260.70 58.27,258.45 61.31,259.95 82.63,263.70 103.94,277.57 125.26,276.07" fill="none" stroke="#24448c" stroke-width="1" stroke-linejoin="miter"/>
<line x1="125.25999999999999" y1="277.95" x2="125.25999999999999" y2="274.2" stroke="#24448c" stroke-width="0.8"/>
<line x1="123.66" y1="277.95" x2="126.85999999999999" y2="277.95" stroke="#24448c" stroke-width="0.8"/>
<line x1="123.66" y1="274.2" x2="126.85999999999999" y2="274.2" stroke="#24448c" stroke-width="0.8"/>
<polygon points="40.00,281.22 41.98,284.69 38.02,284.69" fill="#24448c" stroke="#24448c" stroke-width="1.05" stroke-linejoin="miter"/>
<polygon points="49.13,266.22 51.11,269.69 47.16,269.69" fill="#24448c" stroke="#24448c" stroke-width="1.05" stroke-linejoin="miter"/>
<polygon points="52.18,263.22 54.16,266.69 50.20,266.69" fill="#24448c" stroke="#24448c" stroke-width="1.05" stroke-linejoin="miter"/>
<polygon points="55.23,258.72 57.20,262.19 53.25,262.19" fill="#24448c" stroke="#24448c" stroke-width="1.05" stroke-linejoin="miter"/>
<polygon points="58.27,256.47 60.25,259.94 56.29,259.94" fill="#24448c" stroke="#24448c" stroke-width="1.05" stroke-linejoin="miter"/>
<polygon points="61.31,257.97 63.29,261.44 59.34,261.44" fill="#24448c" stroke="#24448c" stroke-width="1.05" stroke-linejoin="miter"/>
<polygon points="82.63,261.72 84.61,265.19 80.65,265.19" fill="#24448c" stroke="#24448c" stroke-width="1.05" stroke-linejoin="miter"/>
<polygon points="103.94,275.59 105.92,279.06 101.96,279.06" fill="#24448c" stroke="#24448c" stroke-width="1.05" stroke-linejoin="miter"/>
<polygon points="125.26,274.09 127.24,277.56 123.28,277.56" fill="#24448c" stroke="#24448c" stroke-width="1.05" stroke-linejoin="miter"/>
<polyline points="40.00,283.20 49.13,270.45 52.18,267.45 55.23,264.45 58.27,265.95 61.31,270.45 82.63,267.82 103.94,265.57 125.26,267.45" fill="none" stroke="#bb1a42" stroke-width="1" stroke-linejoin="miter"/>
<line x1="103.945" y1="268.2" x2="103.945" y2="262.95" stroke="#bb1a42" stroke-width="0.8"/>
<line x1="102.345" y1="268.2" x2="105.54499999999999" y2="268.2" stroke="#bb1a42" stroke-width="0.8"/>
<line x1="102.345" y1="262.95" x2="105.54499999999999" y2="262.95" stroke="#bb1a42" stroke-width="0.8"/>
<line x1="125.25999999999999" y1="271.2" x2="125.25999999999999" y2="263.7" stroke="#bb1a42" stroke-width="0.8"/>
<line x1="123.66" y1="271.2" x2="126.85999999999999" y2="271.2" stroke="#bb1a42" stroke-width="0.8"/>
<line x1="123.66" y1="263.7" x2="126.85999999999999" y2="263.7" stroke="#bb1a42" stroke-width="0.8"/>
<polygon points="40.00,285.18 41.98,281.71 38.02,281.71" fill="#bb1a42" stroke="#bb1a42" stroke-width="1.05" stroke-linejoin="miter"/>
<polygon points="49.13,272.43 51.11,268.96 47.16,268.96" fill="#bb1a42" stroke="#bb1a42" stroke-width="1.05" stroke-linejoin="miter"/>
<polygon points="52.18,269.43 54.16,265.96 50.20,265.96" fill="#bb1a42" stroke="#bb1a42" stroke-width="1.05" stroke-linejoin="miter"/>
<polygon points="55.23,266.43 57.20,262.96 53.25,262.96" fill="#bb1a42" stroke="#bb1a42" stroke-width="1.05" stroke-linejoin="miter"/>
<polygon points="58.27,267.93 60.25,264.46 56.29,264.46" fill="#bb1a42" stroke="#bb1a42" stroke-width="1.05" stroke-linejoin="miter"/>
<polygon points="61.31,272.43 63.29,268.96 59.34,268.96" fill="#bb1a42" stroke="#bb1a42" stroke-width="1.05" stroke-linejoin="miter"/>
<polygon points="82.63,269.81 84.61,266.34 80.65,266.34" fill="#bb1a42" stroke="#bb1a42" stroke-width="1.05" stroke-linejoin="miter"/>
<polygon points="103.94,267.56 105.92,264.09 101.96,264.09" fill="#bb1a42" stroke="#bb1a42" stroke-width="1.05" stroke-linejoin="miter"/>
<polygon points="125.26,269.43 127.24,265.96 123.28,265.96" fill="#bb1a42" stroke="#bb1a42" stroke-width="1.05" stroke-linejoin="miter"/>
<polyline points="40.00,283.20 49.13,265.20 52.18,263.70 55.23,262.95 58.27,264.45 61.31,270.07 82.63,280.20 103.94,283.20 125.26,283.20" fill="none" stroke="#4a9a2e" stroke-width="1" stroke-linejoin="miter"/>
<circle cx="40.00" cy="283.20" r="1.71" fill="#4a9a2e" stroke="#4a9a2e" stroke-width="1.0"/>
<circle cx="49.13" cy="265.20" r="1.71" fill="#4a9a2e" stroke="#4a9a2e" stroke-width="1.0"/>
<circle cx="52.18" cy="263.70" r="1.71" fill="#4a9a2e" stroke="#4a9a2e" stroke-width="1.0"/>
<circle cx="55.23" cy="262.95" r="1.71" fill="#4a9a2e" stroke="#4a9a2e" stroke-width="1.0"/>
<circle cx="58.27" cy="264.45" r="1.71" fill="#4a9a2e" stroke="#4a9a2e" stroke-width="1.0"/>
<circle cx="61.31" cy="270.07" r="1.71" fill="#4a9a2e" stroke="#4a9a2e" stroke-width="1.0"/>
<circle cx="82.63" cy="280.20" r="1.71" fill="#4a9a2e" stroke="#4a9a2e" stroke-width="1.0"/>
<circle cx="103.94" cy="283.20" r="1.71" fill="#4a9a2e" stroke="#4a9a2e" stroke-width="1.0"/>
<circle cx="125.26" cy="283.20" r="1.71" fill="#4a9a2e" stroke="#4a9a2e" stroke-width="1.0"/>
<text x="55.225" y="236" font-size="6.5" text-anchor="middle" font-weight="normal" fill="#000" >**</text>
<text x="55.225" y="242.6" font-size="6.5" text-anchor="middle" font-weight="normal" fill="#000" >‡‡‡‡</text>
<text x="51.571" y="255" font-size="6.5" text-anchor="middle" font-weight="normal" fill="#000" >‡</text>
<text x="70.45" y="237.2" font-size="6.5" text-anchor="middle" font-weight="normal" fill="#000" >‡‡‡‡</text>
<text x="70.45" y="246" font-size="8.3" text-anchor="middle" font-weight="normal" fill="#000" >§§</text>
<text x="82.63" y="252.8" font-size="6.5" text-anchor="middle" font-weight="normal" fill="#000" >†</text>
<text x="103.945" y="221" font-size="6.5" text-anchor="middle" font-weight="normal" fill="#000" >*</text>
<text x="103.945" y="228" font-size="6.5" text-anchor="middle" font-weight="normal" fill="#000" >‡‡‡</text>
<text x="103.945" y="235.5" font-size="6.5" text-anchor="middle" font-weight="normal" fill="#000" >†††</text>
<text x="125.25999999999999" y="220" font-size="6.5" text-anchor="middle" font-weight="normal" fill="#000" >‡</text>
<text x="125.25999999999999" y="228" font-size="6.5" text-anchor="middle" font-weight="normal" fill="#000" >†††</text>
<line x1="138.7" y1="227.4" x2="151.2" y2="227.4" stroke="#4a9a2e" stroke-width="1" stroke-dasharray="2,1.6"/>
<circle cx="144.95" cy="227.40" r="1.66" fill="white" stroke="#4a9a2e" stroke-width="1.0"/>
<text x="154.2" y="229.9" font-size="7.7" text-anchor="start" font-weight="normal" fill="#000" >Syngeneic vehicle</text>
<line x1="138.7" y1="241.3" x2="151.2" y2="241.3" stroke="#4a9a2e" stroke-width="1"/>
<circle cx="144.95" cy="241.30" r="1.47" fill="#4a9a2e" stroke="#4a9a2e" stroke-width="1.0"/>
<text x="154.2" y="241.9" font-size="7.7" text-anchor="start" font-weight="normal" fill="#000" >Syngeneic CY+</text>
<line x1="138.7" y1="255.20000000000002" x2="151.2" y2="255.20000000000002" stroke="#24448c" stroke-width="1" stroke-dasharray="2,1.6"/>
<polygon points="144.95,253.28 146.88,256.64 143.02,256.64" fill="white" stroke="#24448c" stroke-width="1.05" stroke-linejoin="miter"/>
<text x="154.2" y="256.6" font-size="7.7" text-anchor="start" font-weight="normal" fill="#000" >Ctrl vehicle</text>
<line x1="138.7" y1="269.1" x2="151.2" y2="269.1" stroke="#24448c" stroke-width="1"/>
<polygon points="144.95,267.40 146.66,270.38 143.24,270.38" fill="#24448c" stroke="#24448c" stroke-width="1.05" stroke-linejoin="miter"/>
<text x="154.2" y="271.0" font-size="7.7" text-anchor="start" font-weight="normal" fill="#000" >Ctrl CY+</text>
<line x1="138.7" y1="283.0" x2="151.2" y2="283.0" stroke="#bb1a42" stroke-width="1" stroke-dasharray="2,1.6"/>
<polygon points="144.95,284.93 146.88,281.56 143.02,281.56" fill="white" stroke="#bb1a42" stroke-width="1.05" stroke-linejoin="miter"/>
<text x="154.2" y="285.4" font-size="7.7" text-anchor="start" font-weight="normal" fill="#000" >PD-1 mAb vehicle</text>
<line x1="138.7" y1="296.9" x2="151.2" y2="296.9" stroke="#bb1a42" stroke-width="1"/>
<polygon points="144.95,298.60 146.66,295.62 143.24,295.62" fill="#bb1a42" stroke="#bb1a42" stroke-width="1.05" stroke-linejoin="miter"/>
<text x="154.2" y="299.79999999999995" font-size="7.7" text-anchor="start" font-weight="normal" fill="#000" >PD-1 mAb CY+</text>
<line x1="308" y1="220.2" x2="308" y2="283.7" stroke="#000" stroke-width="1"/>
<line x1="307.5" y1="283.2" x2="402" y2="283.2" stroke="#000" stroke-width="1"/>
<line x1="305.4" y1="283.2" x2="308" y2="283.2" stroke="#000" stroke-width="0.9"/>
<text x="302.7" y="286.0" font-size="8" text-anchor="end" font-weight="normal" fill="#000" >0</text>
<line x1="305.4" y1="268.2" x2="308" y2="268.2" stroke="#000" stroke-width="0.9"/>
<text x="302.7" y="271.0" font-size="8" text-anchor="end" font-weight="normal" fill="#000" >2</text>
<line x1="305.4" y1="253.2" x2="308" y2="253.2" stroke="#000" stroke-width="0.9"/>
<text x="302.7" y="256.0" font-size="8" text-anchor="end" font-weight="normal" fill="#000" >4</text>
<line x1="305.4" y1="238.2" x2="308" y2="238.2" stroke="#000" stroke-width="0.9"/>
<text x="302.7" y="241.0" font-size="8" text-anchor="end" font-weight="normal" fill="#000" >6</text>
<line x1="305.4" y1="223.2" x2="308" y2="223.2" stroke="#000" stroke-width="0.9"/>
<text x="302.7" y="226.0" font-size="8" text-anchor="end" font-weight="normal" fill="#000" >8</text>
<line x1="308.0" y1="283.2" x2="308.0" y2="286.2" stroke="#000" stroke-width="0.9"/>
<text x="308.0" y="296.2" font-size="8" text-anchor="middle" font-weight="normal" fill="#000" >0</text>
<line x1="338.45" y1="283.2" x2="338.45" y2="286.2" stroke="#000" stroke-width="0.9"/>
<text x="338.45" y="296.2" font-size="8" text-anchor="middle" font-weight="normal" fill="#000" >10</text>
<line x1="368.9" y1="283.2" x2="368.9" y2="286.2" stroke="#000" stroke-width="0.9"/>
<text x="368.9" y="296.2" font-size="8" text-anchor="middle" font-weight="normal" fill="#000" >20</text>
<line x1="399.35" y1="283.2" x2="399.35" y2="286.2" stroke="#000" stroke-width="0.9"/>
<text x="399.35" y="296.2" font-size="8" text-anchor="middle" font-weight="normal" fill="#000" >30</text>
<text x="331.4" y="309.3" font-size="9" text-anchor="start" textLength="45.9" lengthAdjust="spacingAndGlyphs" fill="#000" style="stroke-width:0.3px">Days after BMT</text>
<text x="291.8" y="268.8" font-size="9" text-anchor="start" textLength="35" lengthAdjust="spacingAndGlyphs" fill="#000" style="stroke-width:0.3px" transform="rotate(-90 291.8 268.8)">GVHD score</text>
<polyline points="308.00,283.20 317.13,268.95 320.18,265.20 323.23,263.70 326.27,269.70 329.31,275.32 350.63,279.07 371.94,281.32 393.26,283.20" fill="none" stroke="#4a9a2e" stroke-width="1.1" stroke-dasharray="2.6,1.6" stroke-linejoin="miter"/>
<line x1="329.315" y1="275.325" x2="329.315" y2="271.95" stroke="#4a9a2e" stroke-width="0.8"/>
<line x1="327.715" y1="275.325" x2="330.915" y2="275.325" stroke="#4a9a2e" stroke-width="0.8"/>
<line x1="327.715" y1="271.95" x2="330.915" y2="271.95" stroke="#4a9a2e" stroke-width="0.8"/>
<circle cx="308.00" cy="283.20" r="1.71" fill="white" stroke="#4a9a2e" stroke-width="1.0"/>
<circle cx="317.13" cy="268.95" r="1.71" fill="white" stroke="#4a9a2e" stroke-width="1.0"/>
<circle cx="320.18" cy="265.20" r="1.71" fill="white" stroke="#4a9a2e" stroke-width="1.0"/>
<circle cx="323.23" cy="263.70" r="1.71" fill="white" stroke="#4a9a2e" stroke-width="1.0"/>
<circle cx="326.27" cy="269.70" r="1.71" fill="white" stroke="#4a9a2e" stroke-width="1.0"/>
<circle cx="329.31" cy="275.32" r="1.71" fill="white" stroke="#4a9a2e" stroke-width="1.0"/>
<circle cx="350.63" cy="279.07" r="1.71" fill="white" stroke="#4a9a2e" stroke-width="1.0"/>
<circle cx="371.94" cy="281.32" r="1.71" fill="white" stroke="#4a9a2e" stroke-width="1.0"/>
<circle cx="393.26" cy="283.20" r="1.71" fill="white" stroke="#4a9a2e" stroke-width="1.0"/>
<polyline points="308.00,283.20 317.13,271.20 320.18,266.70 323.23,261.45 326.27,253.20 329.31,250.95 350.63,266.70 371.94,270.45 393.26,265.95" fill="none" stroke="#24448c" stroke-width="1.1" stroke-dasharray="3,1.8" stroke-linejoin="miter"/>
<line x1="371.945" y1="272.7" x2="371.945" y2="268.2" stroke="#24448c" stroke-width="0.8"/>
<line x1="370.34499999999997" y1="272.7" x2="373.545" y2="272.7" stroke="#24448c" stroke-width="0.8"/>
<line x1="370.34499999999997" y1="268.2" x2="373.545" y2="268.2" stroke="#24448c" stroke-width="0.8"/>
<line x1="393.26" y1="269.7" x2="393.26" y2="260.7" stroke="#24448c" stroke-width="0.8"/>
<line x1="391.65999999999997" y1="269.7" x2="394.86" y2="269.7" stroke="#24448c" stroke-width="0.8"/>
<line x1="391.65999999999997" y1="260.7" x2="394.86" y2="260.7" stroke="#24448c" stroke-width="0.8"/>
<polygon points="308.00,281.22 309.98,284.69 306.02,284.69" fill="white" stroke="#24448c" stroke-width="1.05" stroke-linejoin="miter"/>
<polygon points="317.13,269.22 319.12,272.69 315.15,272.69" fill="white" stroke="#24448c" stroke-width="1.05" stroke-linejoin="miter"/>
<polygon points="320.18,264.72 322.16,268.19 318.20,268.19" fill="white" stroke="#24448c" stroke-width="1.05" stroke-linejoin="miter"/>
<polygon points="323.23,259.47 325.21,262.94 321.25,262.94" fill="white" stroke="#24448c" stroke-width="1.05" stroke-linejoin="miter"/>
<polygon points="326.27,251.22 328.25,254.69 324.29,254.69" fill="white" stroke="#24448c" stroke-width="1.05" stroke-linejoin="miter"/>
<polygon points="329.31,248.97 331.30,252.44 327.33,252.44" fill="white" stroke="#24448c" stroke-width="1.05" stroke-linejoin="miter"/>
<polygon points="350.63,264.72 352.61,268.19 348.65,268.19" fill="white" stroke="#24448c" stroke-width="1.05" stroke-linejoin="miter"/>
<polygon points="371.94,268.47 373.93,271.94 369.96,271.94" fill="white" stroke="#24448c" stroke-width="1.05" stroke-linejoin="miter"/>
<polygon points="393.26,263.97 395.24,267.44 391.28,267.44" fill="white" stroke="#24448c" stroke-width="1.05" stroke-linejoin="miter"/>
<polyline points="308.00,283.20 317.13,268.20 320.18,265.20 323.23,263.70 326.27,264.45 329.31,265.20 350.63,259.95 371.94,253.20 393.26,246.82" fill="none" stroke="#bb1a42" stroke-width="1.1" stroke-dasharray="3,1.8" stroke-linejoin="miter"/>
<line x1="371.945" y1="256.575" x2="371.945" y2="250.2" stroke="#bb1a42" stroke-width="0.8"/>
<line x1="370.34499999999997" y1="256.575" x2="373.545" y2="256.575" stroke="#bb1a42" stroke-width="0.8"/>
<line x1="370.34499999999997" y1="250.2" x2="373.545" y2="250.2" stroke="#bb1a42" stroke-width="0.8"/>
<line x1="393.26" y1="251.325" x2="393.26" y2="242.325" stroke="#bb1a42" stroke-width="0.8"/>
<line x1="391.65999999999997" y1="251.325" x2="394.86" y2="251.325" stroke="#bb1a42" stroke-width="0.8"/>
<line x1="391.65999999999997" y1="242.325" x2="394.86" y2="242.325" stroke="#bb1a42" stroke-width="0.8"/>
<polygon points="308.00,285.18 309.98,281.71 306.02,281.71" fill="white" stroke="#bb1a42" stroke-width="1.05" stroke-linejoin="miter"/>
<polygon points="317.13,270.18 319.12,266.71 315.15,266.71" fill="white" stroke="#bb1a42" stroke-width="1.05" stroke-linejoin="miter"/>
<polygon points="320.18,267.18 322.16,263.71 318.20,263.71" fill="white" stroke="#bb1a42" stroke-width="1.05" stroke-linejoin="miter"/>
<polygon points="323.23,265.68 325.21,262.21 321.25,262.21" fill="white" stroke="#bb1a42" stroke-width="1.05" stroke-linejoin="miter"/>
<polygon points="326.27,266.43 328.25,262.96 324.29,262.96" fill="white" stroke="#bb1a42" stroke-width="1.05" stroke-linejoin="miter"/>
<polygon points="329.31,267.18 331.30,263.71 327.33,263.71" fill="white" stroke="#bb1a42" stroke-width="1.05" stroke-linejoin="miter"/>
<polygon points="350.63,261.93 352.61,258.46 348.65,258.46" fill="white" stroke="#bb1a42" stroke-width="1.05" stroke-linejoin="miter"/>
<polygon points="371.94,255.18 373.93,251.71 369.96,251.71" fill="white" stroke="#bb1a42" stroke-width="1.05" stroke-linejoin="miter"/>
<polygon points="393.26,248.80 395.24,245.34 391.28,245.34" fill="white" stroke="#bb1a42" stroke-width="1.05" stroke-linejoin="miter"/>
<polyline points="308.00,283.20 317.13,269.70 320.18,265.20 323.23,259.95 326.27,260.70 329.31,261.45 350.63,265.20 371.94,274.95 393.26,277.20" fill="none" stroke="#24448c" stroke-width="1" stroke-linejoin="miter"/>
<line x1="350.63" y1="268.2" x2="350.63" y2="262.95" stroke="#24448c" stroke-width="0.8"/>
<line x1="349.03" y1="268.2" x2="352.23" y2="268.2" stroke="#24448c" stroke-width="0.8"/>
<line x1="349.03" y1="262.95" x2="352.23" y2="262.95" stroke="#24448c" stroke-width="0.8"/>
<polygon points="308.00,281.22 309.98,284.69 306.02,284.69" fill="#24448c" stroke="#24448c" stroke-width="1.05" stroke-linejoin="miter"/>
<polygon points="317.13,267.72 319.12,271.19 315.15,271.19" fill="#24448c" stroke="#24448c" stroke-width="1.05" stroke-linejoin="miter"/>
<polygon points="320.18,263.22 322.16,266.69 318.20,266.69" fill="#24448c" stroke="#24448c" stroke-width="1.05" stroke-linejoin="miter"/>
<polygon points="323.23,257.97 325.21,261.44 321.25,261.44" fill="#24448c" stroke="#24448c" stroke-width="1.05" stroke-linejoin="miter"/>
<polygon points="326.27,258.72 328.25,262.19 324.29,262.19" fill="#24448c" stroke="#24448c" stroke-width="1.05" stroke-linejoin="miter"/>
<polygon points="329.31,259.47 331.30,262.94 327.33,262.94" fill="#24448c" stroke="#24448c" stroke-width="1.05" stroke-linejoin="miter"/>
<polygon points="350.63,263.22 352.61,266.69 348.65,266.69" fill="#24448c" stroke="#24448c" stroke-width="1.05" stroke-linejoin="miter"/>
<polygon points="371.94,272.97 373.93,276.44 369.96,276.44" fill="#24448c" stroke="#24448c" stroke-width="1.05" stroke-linejoin="miter"/>
<polygon points="393.26,275.22 395.24,278.69 391.28,278.69" fill="#24448c" stroke="#24448c" stroke-width="1.05" stroke-linejoin="miter"/>
<polyline points="308.00,283.20 317.13,266.70 320.18,264.45 323.23,262.95 326.27,263.70 329.31,265.95 350.63,270.45 371.94,271.57 393.26,268.95" fill="none" stroke="#bb1a42" stroke-width="1" stroke-linejoin="miter"/>
<line x1="329.315" y1="268.95" x2="329.315" y2="263.7" stroke="#bb1a42" stroke-width="0.8"/>
<line x1="327.715" y1="268.95" x2="330.915" y2="268.95" stroke="#bb1a42" stroke-width="0.8"/>
<line x1="327.715" y1="263.7" x2="330.915" y2="263.7" stroke="#bb1a42" stroke-width="0.8"/>
<line x1="350.63" y1="272.7" x2="350.63" y2="268.2" stroke="#bb1a42" stroke-width="0.8"/>
<line x1="349.03" y1="272.7" x2="352.23" y2="272.7" stroke="#bb1a42" stroke-width="0.8"/>
<line x1="349.03" y1="268.2" x2="352.23" y2="268.2" stroke="#bb1a42" stroke-width="0.8"/>
<line x1="371.945" y1="274.2" x2="371.945" y2="268.95" stroke="#bb1a42" stroke-width="0.8"/>
<line x1="370.34499999999997" y1="274.2" x2="373.545" y2="274.2" stroke="#bb1a42" stroke-width="0.8"/>
<line x1="370.34499999999997" y1="268.95" x2="373.545" y2="268.95" stroke="#bb1a42" stroke-width="0.8"/>
<line x1="393.26" y1="271.95" x2="393.26" y2="265.95" stroke="#bb1a42" stroke-width="0.8"/>
<line x1="391.65999999999997" y1="271.95" x2="394.86" y2="271.95" stroke="#bb1a42" stroke-width="0.8"/>
<line x1="391.65999999999997" y1="265.95" x2="394.86" y2="265.95" stroke="#bb1a42" stroke-width="0.8"/>
<polygon points="308.00,285.18 309.98,281.71 306.02,281.71" fill="#bb1a42" stroke="#bb1a42" stroke-width="1.05" stroke-linejoin="miter"/>
<polygon points="317.13,268.68 319.12,265.21 315.15,265.21" fill="#bb1a42" stroke="#bb1a42" stroke-width="1.05" stroke-linejoin="miter"/>
<polygon points="320.18,266.43 322.16,262.96 318.20,262.96" fill="#bb1a42" stroke="#bb1a42" stroke-width="1.05" stroke-linejoin="miter"/>
<polygon points="323.23,264.93 325.21,261.46 321.25,261.46" fill="#bb1a42" stroke="#bb1a42" stroke-width="1.05" stroke-linejoin="miter"/>
<polygon points="326.27,265.68 328.25,262.21 324.29,262.21" fill="#bb1a42" stroke="#bb1a42" stroke-width="1.05" stroke-linejoin="miter"/>
<polygon points="329.31,267.93 331.30,264.46 327.33,264.46" fill="#bb1a42" stroke="#bb1a42" stroke-width="1.05" stroke-linejoin="miter"/>
<polygon points="350.63,272.43 352.61,268.96 348.65,268.96" fill="#bb1a42" stroke="#bb1a42" stroke-width="1.05" stroke-linejoin="miter"/>
<polygon points="371.94,273.56 373.93,270.09 369.96,270.09" fill="#bb1a42" stroke="#bb1a42" stroke-width="1.05" stroke-linejoin="miter"/>
<polygon points="393.26,270.93 395.24,267.46 391.28,267.46" fill="#bb1a42" stroke="#bb1a42" stroke-width="1.05" stroke-linejoin="miter"/>
<polyline points="308.00,283.20 317.13,268.20 320.18,265.95 323.23,264.45 326.27,265.95 329.31,273.07 350.63,279.45 371.94,280.20 393.26,279.82" fill="none" stroke="#4a9a2e" stroke-width="1" stroke-linejoin="miter"/>
<circle cx="308.00" cy="283.20" r="1.71" fill="#4a9a2e" stroke="#4a9a2e" stroke-width="1.0"/>
<circle cx="317.13" cy="268.20" r="1.71" fill="#4a9a2e" stroke="#4a9a2e" stroke-width="1.0"/>
<circle cx="320.18" cy="265.95" r="1.71" fill="#4a9a2e" stroke="#4a9a2e" stroke-width="1.0"/>
<circle cx="323.23" cy="264.45" r="1.71" fill="#4a9a2e" stroke="#4a9a2e" stroke-width="1.0"/>
<circle cx="326.27" cy="265.95" r="1.71" fill="#4a9a2e" stroke="#4a9a2e" stroke-width="1.0"/>
<circle cx="329.31" cy="273.07" r="1.71" fill="#4a9a2e" stroke="#4a9a2e" stroke-width="1.0"/>
<circle cx="350.63" cy="279.45" r="1.71" fill="#4a9a2e" stroke="#4a9a2e" stroke-width="1.0"/>
<circle cx="371.94" cy="280.20" r="1.71" fill="#4a9a2e" stroke="#4a9a2e" stroke-width="1.0"/>
<circle cx="393.26" cy="279.82" r="1.71" fill="#4a9a2e" stroke="#4a9a2e" stroke-width="1.0"/>
<text x="331.142" y="235" font-size="6.5" text-anchor="middle" font-weight="normal" fill="#000" >***</text>
<text x="331.142" y="242.3" font-size="6.5" text-anchor="middle" font-weight="normal" fill="#000" >‡‡‡‡</text>
<text x="322.007" y="249" font-size="6.5" text-anchor="middle" font-weight="normal" fill="#000" >‡‡</text>
<text x="350.63" y="254.8" font-size="6" text-anchor="middle" font-weight="normal" fill="#000" >†</text>
<text x="371.945" y="241.5" font-size="6.5" text-anchor="middle" font-weight="normal" fill="#000" >†††</text>
<text x="371.945" y="248.5" font-size="6.5" text-anchor="middle" font-weight="normal" fill="#000" >‡‡</text>
<text x="393.26" y="232" font-size="6.5" text-anchor="middle" font-weight="normal" fill="#000" >††</text>
<text x="393.26" y="239.4" font-size="6.5" text-anchor="middle" font-weight="normal" fill="#000" >‡</text>
<line x1="406.8" y1="229.5" x2="419.3" y2="229.5" stroke="#4a9a2e" stroke-width="1" stroke-dasharray="2,1.6"/>
<circle cx="413.05" cy="229.50" r="1.66" fill="white" stroke="#4a9a2e" stroke-width="1.0"/>
<text x="422.3" y="232.0" font-size="7.7" text-anchor="start" font-weight="normal" fill="#000" >Syngeneic vehicle</text>
<line x1="406.8" y1="243.4" x2="419.3" y2="243.4" stroke="#4a9a2e" stroke-width="1"/>
<circle cx="413.05" cy="243.40" r="1.47" fill="#4a9a2e" stroke="#4a9a2e" stroke-width="1.0"/>
<text x="422.3" y="244.0" font-size="7.7" text-anchor="start" font-weight="normal" fill="#000" >Syngeneic CY+</text>
<line x1="406.8" y1="257.3" x2="419.3" y2="257.3" stroke="#24448c" stroke-width="1" stroke-dasharray="2,1.6"/>
<polygon points="413.05,255.38 414.98,258.74 411.12,258.74" fill="white" stroke="#24448c" stroke-width="1.05" stroke-linejoin="miter"/>
<text x="422.3" y="258.7" font-size="7.7" text-anchor="start" font-weight="normal" fill="#000" >Ctrl vehicle</text>
<line x1="406.8" y1="271.2" x2="419.3" y2="271.2" stroke="#24448c" stroke-width="1"/>
<polygon points="413.05,269.50 414.75,272.48 411.35,272.48" fill="#24448c" stroke="#24448c" stroke-width="1.05" stroke-linejoin="miter"/>
<text x="422.3" y="273.09999999999997" font-size="7.7" text-anchor="start" font-weight="normal" fill="#000" >Ctrl CY+</text>
<line x1="406.8" y1="285.1" x2="419.3" y2="285.1" stroke="#bb1a42" stroke-width="1" stroke-dasharray="2,1.6"/>
<polygon points="413.05,287.03 414.98,283.66 411.12,283.66" fill="white" stroke="#bb1a42" stroke-width="1.05" stroke-linejoin="miter"/>
<text x="422.3" y="287.5" font-size="7.7" text-anchor="start" font-weight="normal" fill="#000" >PD-1 mAb vehicle</text>
<line x1="406.8" y1="299.0" x2="419.3" y2="299.0" stroke="#bb1a42" stroke-width="1"/>
<polygon points="413.05,300.70 414.75,297.72 411.35,297.72" fill="#bb1a42" stroke="#bb1a42" stroke-width="1.05" stroke-linejoin="miter"/>
<text x="422.3" y="301.9" font-size="7.7" text-anchor="start" font-weight="normal" fill="#000" >PD-1 mAb CY+</text>
<polyline points="219.5,255.3 225.2,255.3 225.2,269 219.5,269" fill="none" stroke="#000" stroke-width="0.9"/>
<text x="229.3" y="263.6" font-size="6.5" text-anchor="middle" font-weight="normal" fill="#000" >*</text>
<polyline points="232.4,255.3 238.4,255.3 238.4,283.1 232.4,283.1" fill="none" stroke="#000" stroke-width="0.9"/>
<text x="242.8" y="272" font-size="6.5" text-anchor="middle" font-weight="normal" fill="#000" >‡</text>
<polyline points="219.5,283.1 225.2,283.1 225.2,296.9 219.5,296.9" fill="none" stroke="#000" stroke-width="0.9"/>
<text x="229.5" y="293.2" font-size="6.5" text-anchor="middle" font-weight="normal" fill="#000" >†</text>
<polyline points="247,269.3 253.1,269.3 253.1,296.9 247,296.9" fill="none" stroke="#000" stroke-width="0.9"/>
<text x="257.6" y="286.8" font-size="8.6" text-anchor="middle" font-weight="normal" fill="#000" >§</text>
<polyline points="487,257.4 493,257.4 493,271.6 487,271.6" fill="none" stroke="#000" stroke-width="0.9"/>
<text x="497.5" y="266" font-size="6.5" text-anchor="middle" font-weight="normal" fill="#000" >*</text>
<polyline points="501.3,257.4 507,257.4 507,285.9 501.3,285.9" fill="none" stroke="#000" stroke-width="0.9"/>
<text x="511.3" y="273.6" font-size="6.5" text-anchor="middle" font-weight="normal" fill="#000" >‡</text>
<polyline points="487,285.9 493,285.9 493,299.8 487,299.8" fill="none" stroke="#000" stroke-width="0.9"/>
<text x="497.5" y="294.6" font-size="6.5" text-anchor="middle" font-weight="normal" fill="#000" >†</text>
<rect x="0" y="0" width="520" height="1" fill="#000"/><rect x="0" y="0" width="1" height="319" fill="#000"/><rect x="518.7" y="0" width="1.3" height="319" fill="#000"/><rect x="0" y="317.7" width="520" height="1.3" fill="#000"/>
</svg></body></html>
